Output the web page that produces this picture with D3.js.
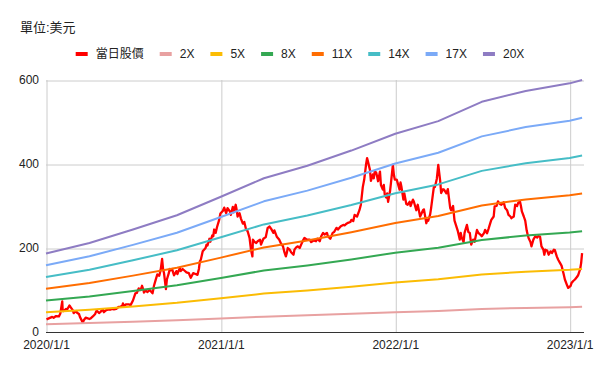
<!DOCTYPE html>
<html>
<head>
<meta charset="utf-8">
<script src="https://cdn.jsdelivr.net/npm/d3@7/dist/d3.min.js"></script>
<style>
    body { margin: 0; background: #fff; }
    text { font-family: "Liberation Sans", Arial, "Noto Sans CJK TC", sans-serif; }
</style>
</head>
<body>
<div id="chart"></div>
<script>
// ---- data ----
var title = "單位:美元";
var seriesNames = ["當日股價", "2X", "5X", "8X", "11X", "14X", "17X", "20X"];
var multiples = [2, 5, 8, 11, 14, 17, 20];

// base value behind the multiple bands (band = multiple x base)
var baseDates = ["2020-01-01", "2020-04-01", "2020-07-01", "2020-10-01", "2021-01-01", "2021-04-01", "2021-07-01",
    "2021-10-01", "2022-01-01", "2022-04-01", "2022-07-01", "2022-10-01", "2023-01-01", "2023-01-27"];
var baseValues = [9.35, 10.6, 12.2, 13.9, 16.1, 18.3, 19.8, 21.6, 23.6, 25.1, 27.4, 28.7, 29.6, 30.0];

// daily price (sampled)
var price = [
    ["2020-01-02", 30], ["2020-01-08", 33], ["2020-01-14", 36], ["2020-01-17", 34], ["2020-01-22", 38], ["2020-01-28", 37],
    ["2020-01-31", 44], ["2020-02-04", 73], ["2020-02-05", 50], ["2020-02-07", 50], ["2020-02-12", 55], ["2020-02-14", 53],
    ["2020-02-19", 63], ["2020-02-21", 60], ["2020-02-26", 52], ["2020-02-28", 45], ["2020-03-04", 50], ["2020-03-06", 46],
    ["2020-03-10", 43], ["2020-03-12", 36], ["2020-03-16", 27], ["2020-03-18", 22], ["2020-03-20", 28], ["2020-03-24", 34],
    ["2020-03-27", 33], ["2020-04-01", 31], ["2020-04-03", 32], ["2020-04-08", 37], ["2020-04-13", 43], ["2020-04-15", 49],
    ["2020-04-17", 50], ["2020-04-21", 45], ["2020-04-24", 48], ["2020-04-29", 54], ["2020-05-01", 47], ["2020-05-06", 52],
    ["2020-05-11", 54], ["2020-05-14", 53], ["2020-05-19", 55], ["2020-05-22", 54], ["2020-05-27", 55], ["2020-06-01", 60],
    ["2020-06-05", 60], ["2020-06-09", 63], ["2020-06-10", 68], ["2020-06-12", 62], ["2020-06-17", 66], ["2020-06-22", 66],
    ["2020-06-26", 64], ["2020-07-01", 75], ["2020-07-06", 92], ["2020-07-09", 93], ["2020-07-13", 104], ["2020-07-14", 100],
    ["2020-07-17", 100], ["2020-07-20", 110], ["2020-07-23", 100], ["2020-07-24", 94], ["2020-07-28", 99], ["2020-07-31", 95],
    ["2020-08-05", 100], ["2020-08-11", 92], ["2020-08-14", 110], ["2020-08-18", 126], ["2020-08-21", 137], ["2020-08-25", 134],
    ["2020-08-28", 148], ["2020-08-31", 174], ["2020-09-02", 150], ["2020-09-04", 140], ["2020-09-08", 102], ["2020-09-10", 125],
    ["2020-09-14", 140], ["2020-09-16", 150], ["2020-09-18", 147], ["2020-09-21", 150], ["2020-09-23", 142], ["2020-09-25", 135],
    ["2020-09-30", 145], ["2020-10-02", 138], ["2020-10-07", 152], ["2020-10-09", 145], ["2020-10-13", 150], ["2020-10-16", 147],
    ["2020-10-21", 142], ["2020-10-26", 140], ["2020-10-30", 129], ["2020-11-04", 140], ["2020-11-09", 138], ["2020-11-13", 136],
    ["2020-11-16", 150], ["2020-11-18", 168], ["2020-11-20", 172], ["2020-11-24", 192], ["2020-11-30", 200], ["2020-12-02", 208],
    ["2020-12-04", 206], ["2020-12-08", 222], ["2020-12-10", 215], ["2020-12-14", 230], ["2020-12-16", 228], ["2020-12-18", 244],
    ["2020-12-21", 236], ["2020-12-24", 250], ["2020-12-28", 265], ["2020-12-31", 282],
    ["2021-01-05", 288], ["2021-01-08", 296], ["2021-01-12", 283], ["2021-01-15", 295], ["2021-01-20", 287], ["2021-01-22", 279],
    ["2021-01-26", 298], ["2021-01-28", 285], ["2021-02-01", 303], ["2021-02-03", 291], ["2021-02-05", 275], ["2021-02-09", 283],
    ["2021-02-12", 270], ["2021-02-16", 258], ["2021-02-19", 262], ["2021-02-23", 243], ["2021-02-26", 240], ["2021-03-02", 224],
    ["2021-03-05", 196], ["2021-03-08", 180], ["2021-03-09", 220], ["2021-03-12", 215], ["2021-03-16", 212], ["2021-03-19", 216],
    ["2021-03-24", 220], ["2021-03-26", 208], ["2021-03-31", 222], ["2021-04-05", 226], ["2021-04-09", 248], ["2021-04-13", 251],
    ["2021-04-16", 246], ["2021-04-21", 236], ["2021-04-23", 242], ["2021-04-28", 227], ["2021-05-03", 220], ["2021-05-07", 210],
    ["2021-05-11", 204], ["2021-05-14", 190], ["2021-05-17", 180], ["2021-05-19", 188], ["2021-05-21", 200], ["2021-05-25", 196],
    ["2021-05-28", 190], ["2021-06-02", 184], ["2021-06-04", 196], ["2021-06-08", 202], ["2021-06-11", 204], ["2021-06-15", 200],
    ["2021-06-18", 208], ["2021-06-22", 218], ["2021-06-25", 224], ["2021-06-30", 220], ["2021-07-06", 220], ["2021-07-09", 214],
    ["2021-07-14", 218], ["2021-07-19", 216], ["2021-07-22", 222], ["2021-07-27", 216], ["2021-07-30", 228], ["2021-08-03", 236],
    ["2021-08-06", 232], ["2021-08-11", 236], ["2021-08-13", 228], ["2021-08-18", 222], ["2021-08-23", 236], ["2021-08-26", 238],
    ["2021-08-31", 248], ["2021-09-03", 244], ["2021-09-09", 252], ["2021-09-14", 255], ["2021-09-17", 254], ["2021-09-21", 258],
    ["2021-09-24", 260], ["2021-09-29", 262], ["2021-10-01", 267], ["2021-10-05", 264], ["2021-10-08", 279], ["2021-10-13", 275],
    ["2021-10-18", 290], ["2021-10-21", 303], ["2021-10-25", 345], ["2021-10-28", 363], ["2021-11-01", 400], ["2021-11-03", 414],
    ["2021-11-05", 405], ["2021-11-09", 386], ["2021-11-11", 360], ["2021-11-15", 375], ["2021-11-17", 366], ["2021-11-19", 382],
    ["2021-11-22", 380], ["2021-11-24", 370], ["2021-11-26", 359], ["2021-11-30", 382], ["2021-12-02", 350], ["2021-12-06", 339],
    ["2021-12-08", 350], ["2021-12-10", 327], ["2021-12-13", 320], ["2021-12-15", 330], ["2021-12-17", 310], ["2021-12-21", 335],
    ["2021-12-23", 355], ["2021-12-27", 398], ["2021-12-29", 375], ["2021-12-31", 363],
    ["2022-01-04", 363], ["2022-01-06", 355], ["2022-01-10", 339], ["2022-01-12", 356], ["2022-01-14", 345], ["2022-01-18", 315],
    ["2022-01-20", 330], ["2022-01-24", 305], ["2022-01-27", 303], ["2022-01-31", 310], ["2022-02-02", 300], ["2022-02-07", 315],
    ["2022-02-09", 310], ["2022-02-14", 290], ["2022-02-17", 303], ["2022-02-22", 275], ["2022-02-24", 280], ["2022-02-28", 290],
    ["2022-03-02", 292], ["2022-03-07", 259], ["2022-03-09", 267], ["2022-03-11", 265], ["2022-03-15", 280], ["2022-03-17", 295],
    ["2022-03-21", 330], ["2022-03-23", 347], ["2022-03-25", 345], ["2022-03-29", 365], ["2022-04-01", 398], ["2022-04-05", 360],
    ["2022-04-07", 331], ["2022-04-11", 340], ["2022-04-13", 339], ["2022-04-18", 330], ["2022-04-21", 340], ["2022-04-26", 295],
    ["2022-04-28", 290], ["2022-05-02", 300], ["2022-05-05", 265], ["2022-05-09", 251], ["2022-05-12", 240], ["2022-05-16", 220],
    ["2022-05-18", 236], ["2022-05-20", 225], ["2022-05-24", 214], ["2022-05-26", 236], ["2022-05-31", 255], ["2022-06-03", 238],
    ["2022-06-06", 236], ["2022-06-09", 208], ["2022-06-13", 220], ["2022-06-16", 215], ["2022-06-21", 243], ["2022-06-24", 236],
    ["2022-06-28", 232], ["2022-07-01", 228], ["2022-07-06", 236], ["2022-07-08", 243], ["2022-07-12", 235], ["2022-07-15", 245],
    ["2022-07-19", 260], ["2022-07-21", 267], ["2022-07-26", 275], ["2022-07-28", 299], ["2022-08-01", 300], ["2022-08-04", 311],
    ["2022-08-08", 305], ["2022-08-11", 303], ["2022-08-16", 309], ["2022-08-19", 295], ["2022-08-23", 290], ["2022-08-26", 279],
    ["2022-08-30", 275], ["2022-09-01", 271], ["2022-09-06", 275], ["2022-09-09", 303], ["2022-09-13", 300], ["2022-09-15", 307],
    ["2022-09-19", 311], ["2022-09-21", 300], ["2022-09-23", 287], ["2022-09-27", 275], ["2022-09-30", 265], ["2022-10-03", 242],
    ["2022-10-05", 232], ["2022-10-07", 224], ["2022-10-11", 214], ["2022-10-13", 204], ["2022-10-17", 220], ["2022-10-21", 228],
    ["2022-10-25", 225], ["2022-10-27", 228], ["2022-10-31", 227], ["2022-11-03", 204], ["2022-11-07", 196], ["2022-11-09", 184],
    ["2022-11-11", 196], ["2022-11-15", 194], ["2022-11-18", 184], ["2022-11-22", 192], ["2022-11-25", 188], ["2022-11-29", 196],
    ["2022-12-01", 195], ["2022-12-05", 180], ["2022-12-08", 172], ["2022-12-12", 164], ["2022-12-15", 158], ["2022-12-19", 140],
    ["2022-12-22", 125], ["2022-12-27", 110], ["2022-12-29", 105],
    ["2023-01-03", 110], ["2023-01-05", 117], ["2023-01-09", 122], ["2023-01-12", 125], ["2023-01-17", 132], ["2023-01-19", 136],
    ["2023-01-23", 150], ["2023-01-25", 164], ["2023-01-27", 188]
];

var yTicks = [0, 200, 400, 600];
var xTicks = ["2020-01-01", "2021-01-01", "2022-01-01", "2023-01-01"];
var xDomain = ["2020-01-01", "2023-01-31"];

// ---- style ----
var colours = ["#ff0000", "#e8a1a1", "#fbbc04", "#34a853", "#ff6d01", "#46bdc6", "#7baaf7", "#8e7cc3"];

var W = 600, H = 371;
var margin = { top: 80, right: 16, bottom: 39, left: 46 },
    width = W - margin.left - margin.right,
    height = H - margin.top - margin.bottom;

var parse = d3.timeParse("%Y-%m-%d");

var svg = d3.select("#chart")
    .append("svg")
    .attr("width", W)
    .attr("height", H);

svg.append("rect").attr("width", W).attr("height", H).attr("fill", "#fff");

// title
svg.append("text")
    .attr("x", 20)
    .attr("y", 32)
    .style("font-size", "13px")
    .style("fill", "#222")
    .text(title);

var g = svg.append("g")
    .attr("transform", "translate(" + margin.left + "," + margin.top + ")");

var x = d3.scaleTime()
    .domain(xDomain.map(parse))
    .range([0, width]);

var y = d3.scaleLinear()
    .domain([0, 600])
    .range([height, 0]);

// horizontal grid
g.append("g")
    .attr("class", "grid")
    .call(d3.axisLeft(y).tickValues(yTicks.slice(1)).tickSize(-width).tickFormat(""))
    .call(function(s) { s.select(".domain").remove(); })
    .selectAll("line")
    .attr("stroke", "#cccccc")
    .attr("transform", "translate(0,0.5)");

// vertical grid
g.append("g")
    .attr("class", "grid")
    .attr("transform", "translate(0," + height + ")")
    .call(d3.axisBottom(x).tickValues(xTicks.map(parse)).tickSize(-height).tickFormat(""))
    .call(function(s) { s.select(".domain").remove(); })
    .selectAll("line")
    .attr("stroke", "#cccccc")
    .attr("transform", "translate(0.5,0)");

// y labels
g.append("g")
    .call(d3.axisLeft(y).tickValues(yTicks).tickSize(0).tickPadding(7))
    .call(function(s) { s.select(".domain").remove(); })
    .selectAll("text")
    .style("font-size", "12px")
    .style("font-family", "'Liberation Sans', Arial, sans-serif")
    .attr("fill", "#222");

// x labels
g.append("g")
    .attr("transform", "translate(0," + height + ")")
    .call(d3.axisBottom(x).tickValues(xTicks.map(parse)).tickSize(0).tickPadding(8)
        .tickFormat(d3.timeFormat("%Y/%-m/%-d")))
    .call(function(s) { s.select(".domain").remove(); })
    .selectAll("text")
    .style("font-size", "12px")
    .style("font-family", "'Liberation Sans', Arial, sans-serif")
    .attr("fill", "#222");

var line = d3.line()
    .x(function(d) { return x(d[0]); })
    .y(function(d) { return y(d[1]); });

// price line
var priceData = price.map(function(d) { return [parse(d[0]), d[1]]; });
g.append("path")
    .datum(priceData)
    .attr("fill", "none")
    .attr("stroke", colours[0])
    .attr("stroke-width", 2.3)
    .attr("stroke-linejoin", "round")
    .attr("d", line);

// multiple bands
multiples.forEach(function(m, i) {
    var band = baseDates.map(function(dt, j) { return [parse(dt), baseValues[j] * m]; });
    g.append("path")
        .datum(band)
        .attr("fill", "none")
        .attr("stroke", colours[i + 1])
        .attr("stroke-width", 2)
        .attr("stroke-linejoin", "round")
        .attr("d", line);
});

// bottom axis line
g.append("line")
    .attr("x1", 0).attr("x2", width)
    .attr("y1", height + 0.5).attr("y2", height + 0.5)
    .attr("stroke", "#333");

// legend (centred)
var legend = svg.append("g").attr("transform", "translate(0,54)");
var items = legend.selectAll("g")
    .data(seriesNames)
    .enter()
    .append("g");

items.append("rect")
    .attr("y", -2)
    .attr("width", 12)
    .attr("height", 4)
    .attr("fill", function(d, i) { return colours[i]; });

items.append("text")
    .attr("x", 20)
    .attr("dy", "0.35em")
    .style("font-size", "12px")
    .style("fill", "#222")
    .text(function(d) { return d; });

var pos = 0, offsets = [];
items.each(function() {
    offsets.push(pos);
    pos += 20 + d3.select(this).select("text").node().getComputedTextLength() + 16;
});
var total = pos - 16;
var start = (W - total) / 2;
items.attr("transform", function(d, i) { return "translate(" + (start + offsets[i]) + ",0)"; });
</script>
</body>
</html>
